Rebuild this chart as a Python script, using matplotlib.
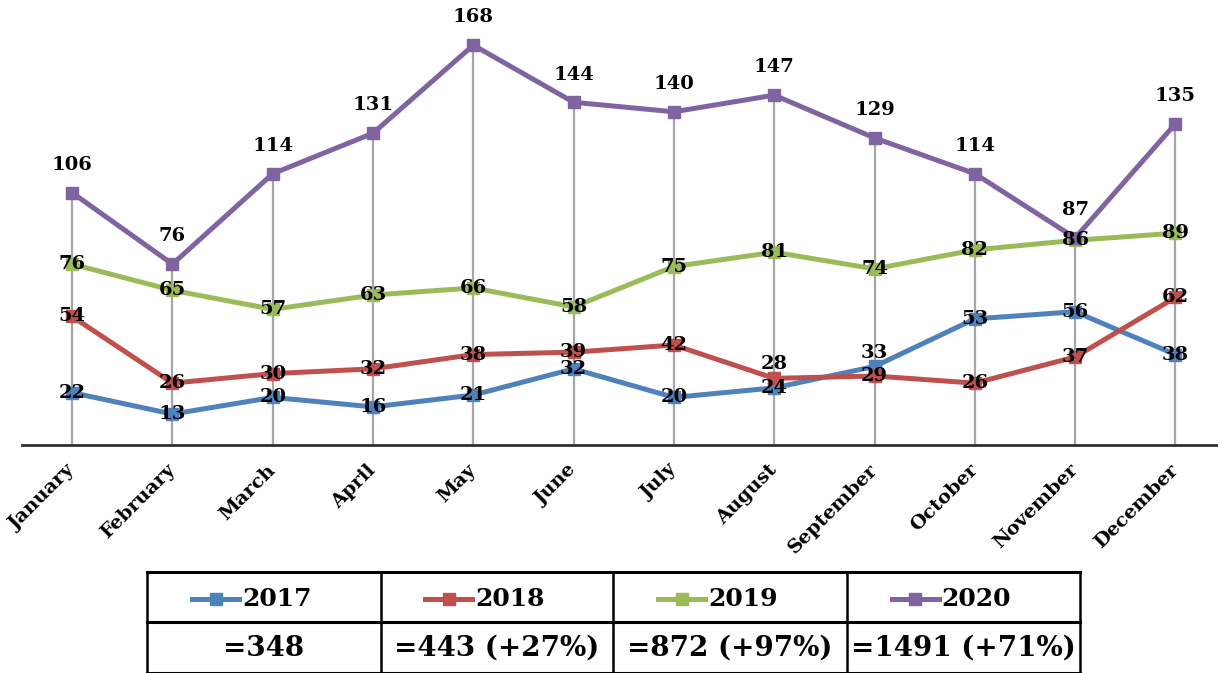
import numpy as np
import matplotlib.pyplot as plt
from matplotlib.lines import Line2D

# dane
months = ['January', 'February', 'March', 'April', 'May', 'June', 'July',
          'August', 'September', 'October', 'November', 'December']
years = ['2017', '2018', '2019', '2020']
v2017 = [22, 13, 20, 16, 21, 32, 20, 24, 33, 53, 56, 38]
v2018 = [54, 26, 30, 32, 38, 39, 42, 28, 29, 26, 37, 62]
v2019 = [76, 65, 57, 63, 66, 58, 75, 81, 74, 82, 86, 89]
v2020 = [106, 76, 114, 131, 168, 144, 140, 147, 129, 114, 87, 135]
series = [v2017, v2018, v2019, v2020]

colors = ['#4F81BD', '#C0504D', '#9BBB59', '#8064A2']
# przesuniecie etykiet w pionie (pt); domyslnie srodek punktu
label_offset = {(0, 8): 10, (1, 7): 10}
top_offset = 20

plt.rcParams['font.family'] = ['DejaVu Serif']
plt.rcParams['font.weight'] = 'bold'

W, H = 1218, 673
fig = plt.figure(figsize=(W / 100, H / 100), dpi=100)

# os wykresu w pikselach: x od 22 do 1218, linia bazowa y=445
ax = fig.add_axes([22 / W, (H - 445) / H, 1 - 22 / W, 445 / H])
x = np.arange(len(months))
ax.set_xlim(-0.5, (W - 22) / 100.3 - 0.5)
ax.set_ylim(0, 445 / 2.38)

# linie spadku od maksimum do osi
tops = np.max(np.array(series), axis=0)
ax.vlines(x, 0, tops, color='#A6A6A6', lw=1.6, zorder=1)

for i, vals in enumerate(series):
    ax.plot(x, vals, color=colors[i], lw=3.6, marker='s', markersize=9,
            zorder=2 + i)
    for j, v in enumerate(vals):
        if i == 3:
            dy = top_offset
        else:
            dy = label_offset.get((i, j), 0)
        ax.annotate(str(v), (j, v), xytext=(0, dy), textcoords='offset points',
                    ha='center', va='center', fontsize=14, fontweight='bold',
                    color='black', zorder=10)

for s in ['top', 'right', 'left']:
    ax.spines[s].set_visible(False)
ax.spines['bottom'].set_color('#303030')
ax.spines['bottom'].set_linewidth(2)
ax.set_yticks([])
ax.set_xticks(x)
ax.set_xticklabels(months, rotation=45, ha='right', va='center',
                   rotation_mode='anchor', fontsize=14, fontweight='bold')
ax.tick_params(axis='x', length=0, pad=16)

# tabela pod wykresem
col_x = [147, 381, 613, 847, 1080]
row_y = [572, 622, 673]
fx = lambda px: px / W
fy = lambda py: (H - py) / H
for cx in col_x:
    fig.add_artist(Line2D([fx(cx), fx(cx)], [fy(row_y[0]), fy(row_y[2])],
                          color='black', lw=1.8))
for ry in row_y:
    fig.add_artist(Line2D([fx(col_x[0]), fx(col_x[-1])], [fy(ry), fy(ry)],
                          color='black', lw=2.2))

totals = [sum(s) for s in series]
for k in range(4):
    c = (col_x[k] + col_x[k + 1]) / 2
    y1 = (row_y[0] + row_y[1]) / 2 + 2
    fig.add_artist(Line2D([fx(c - 72), fx(c - 25)], [fy(y1), fy(y1)],
                          color=colors[k], lw=3.6))
    fig.add_artist(Line2D([fx(c - 48.5)], [fy(y1)], color=colors[k],
                          marker='s', markersize=9, lw=0))
    fig.text(fx(c - 22), fy(y1), years[k], ha='left', va='center',
             fontsize=18, fontweight='bold')
    txt = '=%d' % totals[k]
    if k > 0:
        pct = round((totals[k] / totals[k - 1] - 1) * 100)
        txt += ' (+%d%%)' % pct
    y2 = (row_y[1] + row_y[2]) / 2 + 1
    fig.text(fx(c), fy(y2), txt, ha='center', va='center',
             fontsize=20, fontweight='bold')

fig.savefig('out.png', dpi=100)
